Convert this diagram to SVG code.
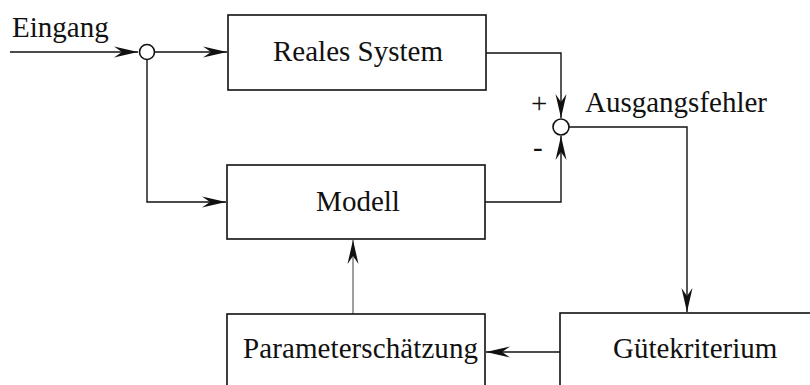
<svg xmlns="http://www.w3.org/2000/svg" width="810" height="385" viewBox="0 0 810 385">
<style>
.box{fill:#fff;stroke:#111;stroke-width:1.6}
.ln{fill:none;stroke:#111;stroke-width:1.4}
.grey{stroke:#777}
.t{font-family:"Liberation Serif","Times New Roman",serif;font-size:29px;fill:#111}
</style>
<defs>
<marker id="ah" markerUnits="userSpaceOnUse" viewBox="-24 -7 26 14" refX="0" refY="0" markerWidth="26" markerHeight="14" orient="auto">
<path d="M0,0 L-24,-5.5 L-16,0 L-24,5.5 Z" fill="#111"/>
</marker>
</defs>
<rect width="810" height="385" fill="#fff"/>
<g id="connectors">
<path class="ln" d="M10,52 H138" marker-end="url(#ah)"/>
<path class="ln" d="M155,52 H227" marker-end="url(#ah)"/>
<path class="ln" d="M147,60 V202 H226" marker-end="url(#ah)"/>
<path class="ln" d="M486,53 H561 V118" marker-end="url(#ah)"/>
<path class="ln" d="M485,202 H561 V136" marker-end="url(#ah)"/>
<path class="ln" d="M569,127 H687 V312" marker-end="url(#ah)"/>
<path class="ln" d="M560,352 H486" marker-end="url(#ah)"/>
<path class="ln grey" d="M353,314 V240" marker-end="url(#ah)"/>
</g>
<g id="eingang"><text class="t" x="12" y="37">Eingang</text></g>
<g id="sum1"><circle cx="147" cy="52" r="7.5" fill="#fff" stroke="#111" stroke-width="1.6"/></g>
<g id="reales-system">
<rect class="box" x="228" y="15" width="258" height="75"/>
<text class="t" x="358" y="61" text-anchor="middle">Reales System</text>
</g>
<g id="modell">
<rect class="box" x="227" y="165" width="258" height="74"/>
<text class="t" x="358" y="211" text-anchor="middle">Modell</text>
</g>
<g id="sum2">
<circle cx="561" cy="127" r="8" fill="#fff" stroke="#111" stroke-width="1.6"/>
<text class="t" x="531" y="113">+</text>
<text class="t" x="533" y="157">-</text>
<text class="t" x="585" y="112">Ausgangsfehler</text>
</g>
<g id="parameterschaetzung">
<rect class="box" x="227" y="314" width="258" height="80"/>
<text class="t" x="243" y="358" textLength="235">Parameterschätzung</text>
</g>
<g id="guetekriterium">
<rect class="box" x="560" y="313" width="270" height="80"/>
<text class="t" x="613" y="358">Gütekriterium</text>
</g>
</svg>
